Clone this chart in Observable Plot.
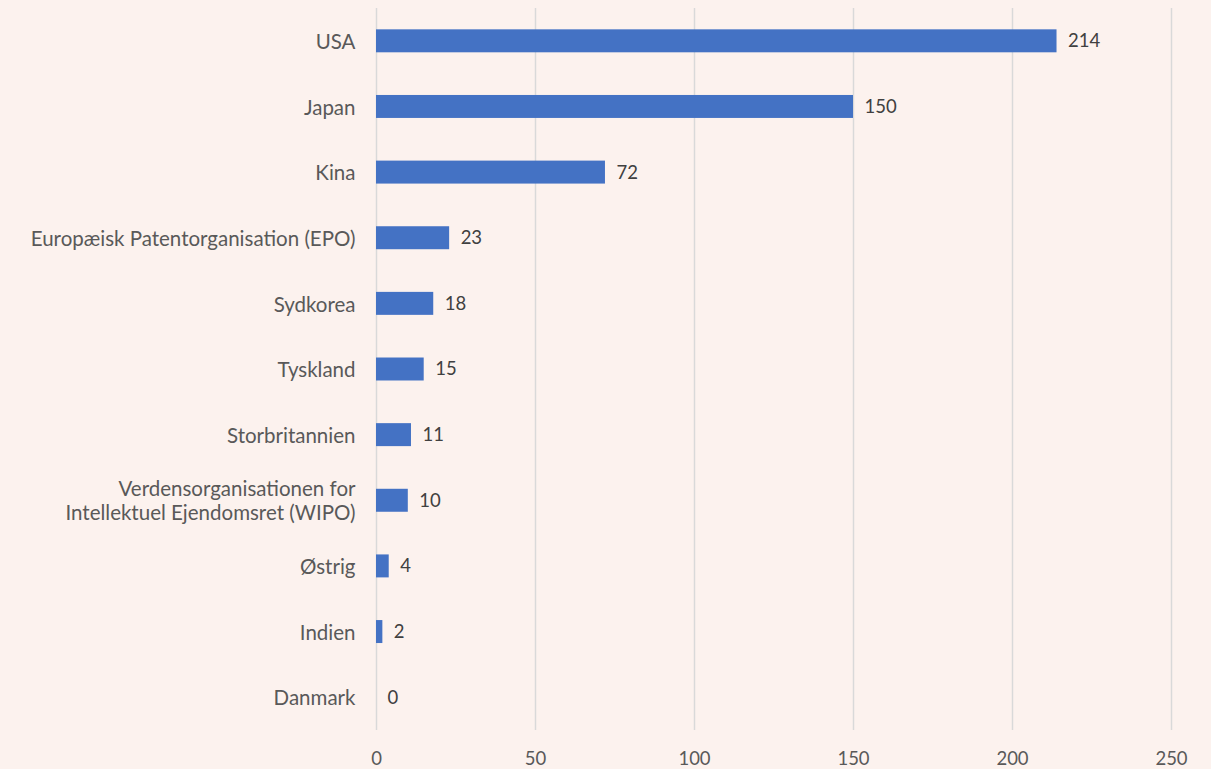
<!DOCTYPE html>
<html><head><meta charset="utf-8">
<script src="https://cdn.jsdelivr.net/npm/d3@7"></script>
<script src="https://cdn.jsdelivr.net/npm/@observablehq/plot@0.6"></script>
<style>
html,body{margin:0;padding:0;background:#fcf2ee;}
</style></head>
<body><div id="chart"></div>
<script>
const categories = ["USA","Japan","Kina","Europæisk Patentorganisation (EPO)","Sydkorea","Tyskland","Storbritannien","Verdensorganisationen for\nIntellektuel Ejendomsret (WIPO)","Østrig","Indien","Danmark"];
const values = [214,150,72,23,18,15,11,10,4,2,0];
const xTicks = [0,50,100,150,200,250];
const data = categories.map((c,i)=>({c, v: values[i]}));

const chart = Plot.plot({
  width: 1211, height: 769,
  marginLeft: 376, marginRight: 40, marginTop: 8, marginBottom: 39,
  style: {background: "#fcf2ee", fontFamily: "Lato, 'Open Sans', sans-serif", fontSize: "18px", color: "#595959"},
  x: {domain: [0,250], ticks: xTicks, label: null},
  y: {domain: categories, paddingInner: 0.65, paddingOuter: 0.325, round: false, label: null},
  marks: [
    Plot.gridX(xTicks, {stroke: "#d9d9d9", strokeOpacity: 1, strokeWidth: 1.5}),
    Plot.barX(data, {x: "v", y: "c", fill: "#4472c4"}),
    Plot.text(data, {x: "v", y: "c", text: d => String(d.v), textAnchor: "start", dx: 11, fill: "#404040", fontSize: 18.5}),
    Plot.axisY({tickSize: 0, tickPadding: 21, fill: "#595959", fontSize: 20.5, lineHeight: 1.17}),
    Plot.axisX(xTicks, {tickSize: 0, tickPadding: 21, fill: "#595959", fontSize: 18.5})
  ]
});
document.getElementById("chart").append(chart);
</script></body></html>
